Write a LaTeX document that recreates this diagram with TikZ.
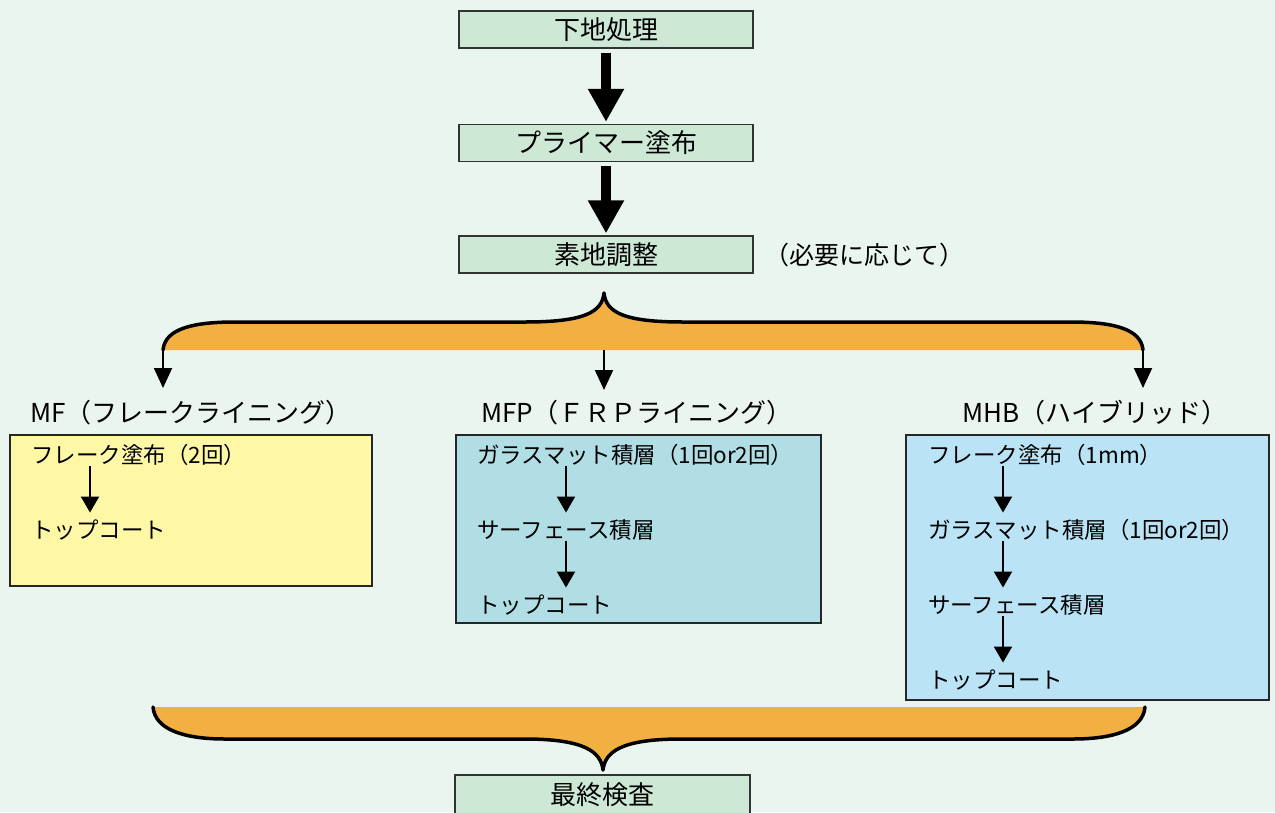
\documentclass[tikz,border=0pt]{standalone}
\usepackage{fontspec}
\setmainfont{Noto Sans CJK JP}
\usetikzlibrary{arrows.meta}
\definecolor{bgc}{RGB}{235,245,239}
\definecolor{stepgreen}{RGB}{206,232,214}
\definecolor{bracec}{RGB}{242,176,66}
\definecolor{mfy}{RGB}{254,248,166}
\definecolor{mfpc}{RGB}{176,222,228}
\definecolor{mhbc}{RGB}{186,228,246}
\tikzset{
  stepbox/.style={draw=black!80, line width=1.3pt, fill=stepgreen, minimum width=294pt, minimum height=37pt, inner sep=0pt, text height=22.9pt, text depth=3.1pt, font=\fontsize{26}{30}\selectfont},
  bigarrow/.style={line width=10pt, -{Triangle[length=33pt,width=34pt]}},
  subarrow/.style={line width=2pt, -{Triangle[length=16pt,width=18pt]}},
  brancharrow/.style={line width=2pt, -{Triangle[length=20pt,width=18pt]}},
  groupbox/.style={draw=black!85, line width=1.3pt, inner sep=0pt},
  gtitle/.style={inner sep=0pt, text height=22.9pt, text depth=3.1pt, font=\fontsize{26}{30}\selectfont},
  item/.style={anchor=west, inner sep=0pt, text height=19.8pt, text depth=2.7pt, font=\fontsize{22.5}{27}\selectfont},
  braceline/.style={line width=3.5pt, line join=round, line cap=round},
}
\begin{document}
\begin{tikzpicture}[x=1pt,y=-1pt]
\fill[bgc] (0,0) rectangle (1275,812);
\useasboundingbox (0,0) rectangle (1275,812);

% main steps
\node[stepbox] (s1) at (606,29.5) {下地処理};
\node[stepbox] (s2) at (606,143) {プライマー塗布};
\node[stepbox] (s3) at (606,254.5) {素地調整};
\node[anchor=west, inner sep=0pt, text height=22pt, text depth=3pt, font=\fontsize{25}{30}\selectfont] (note) at (764,255) {（必要に応じて）};

\draw[bigarrow, shorten <=4pt, shorten >=2pt] (s1.south) -- (s2.north);
\draw[bigarrow, shorten <=4pt, shorten >=2pt] (s2.south) -- (s3.north);

% top brace
\fill[bracec] (163,350) .. controls (165,328) and (195,322) .. (235,322) -- (525,322)
  .. controls (585,322) and (602,312) .. (604,293)
  .. controls (606,312) and (623,322) .. (683,322) -- (1071,322)
  .. controls (1111,322) and (1141,328) .. (1143,350) -- cycle;
\draw[braceline] (163,350) .. controls (165,328) and (195,322) .. (235,322) -- (525,322)
  .. controls (585,322) and (602,312) .. (604,293)
  .. controls (606,312) and (623,322) .. (683,322) -- (1071,322)
  .. controls (1111,322) and (1141,328) .. (1143,350);

\coordinate (b1) at (163,350);
\coordinate (b2) at (604,350);
\coordinate (b3) at (1143,350);
\coordinate (e1) at (163,388);
\coordinate (e2) at (604,390);
\coordinate (e3) at (1143,388);
\draw[brancharrow] (b1) -- (e1);
\draw[brancharrow] (b2) -- (e2);
\draw[brancharrow] (b3) -- (e3);

% group titles
\node[gtitle] (t1) at (191,413) {MF（フレークライニング）};
\node[gtitle] (t2) at (637,413) {MFP（ＦＲＰライニング）};
\node[gtitle] (t3) at (1095,413) {MHB（ハイブリッド）};

% group boxes
\node[groupbox, fill=mfy, minimum width=362pt, minimum height=151pt] (g1) at (191,510.5) {};
\node[groupbox, fill=mfpc, minimum width=365pt, minimum height=188pt] (g2) at (638.5,529) {};
\node[groupbox, fill=mhbc, minimum width=363pt, minimum height=265pt] (g3) at (1087.5,567.5) {};

% MF items
\node[item] (a1) at (31,455) {フレーク塗布（2回）};
\node[item] (a2) at (31,530) {トップコート};
\draw[subarrow, shorten >=6pt] ([xshift=59pt]a1.south west) -- ([xshift=59pt]a2.north west);

% MFP items
\node[item] (p1) at (477,455) {ガラスマット積層（1回or2回）};
\node[item] (p2) at (477,530) {サーフェース積層};
\node[item] (p3) at (477,605) {トップコート};
\draw[subarrow, shorten >=6pt] ([xshift=89pt]p1.south west) -- ([xshift=89pt]p2.north west);
\draw[subarrow, shorten >=6pt] ([xshift=89pt]p2.south west) -- ([xshift=89pt]p3.north west);

% MHB items
\node[item] (h1) at (928,455) {フレーク塗布（1mm）};
\node[item] (h2) at (928,530) {ガラスマット積層（1回or2回）};
\node[item] (h3) at (928,605) {サーフェース積層};
\node[item] (h4) at (928,680) {トップコート};
\draw[subarrow, shorten >=6pt] ([xshift=75pt]h1.south west) -- ([xshift=75pt]h2.north west);
\draw[subarrow, shorten >=6pt] ([xshift=75pt]h2.south west) -- ([xshift=75pt]h3.north west);
\draw[subarrow, shorten >=6pt] ([xshift=75pt]h3.south west) -- ([xshift=75pt]h4.north west);

% bottom brace
\fill[bracec] (153,707) .. controls (155,730) and (185,739) .. (225,739) -- (525,739)
  .. controls (585,739) and (601,752) .. (603,770)
  .. controls (605,752) and (621,739) .. (681,739) -- (1073,739)
  .. controls (1113,739) and (1143,730) .. (1145,707) -- cycle;
\draw[braceline] (153,707) .. controls (155,730) and (185,739) .. (225,739) -- (525,739)
  .. controls (585,739) and (601,752) .. (603,770)
  .. controls (605,752) and (621,739) .. (681,739) -- (1073,739)
  .. controls (1113,739) and (1143,730) .. (1145,707);

\node[stepbox, minimum width=295pt, minimum height=40pt] (s4) at (602.5,795) {最終検査};
\end{tikzpicture}
\end{document}
